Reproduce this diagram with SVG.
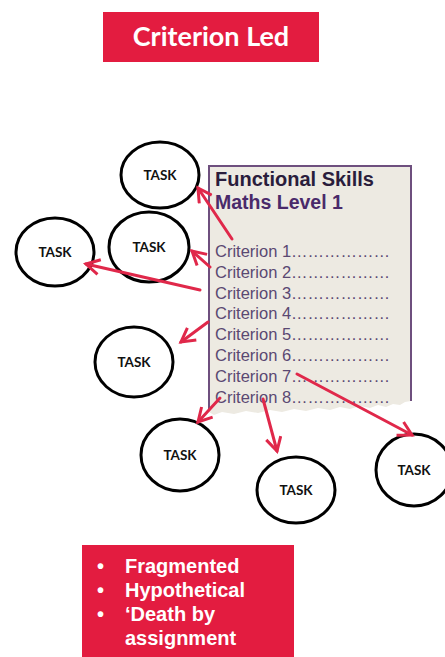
<svg xmlns="http://www.w3.org/2000/svg" width="445" height="657" viewBox="0 0 445 657">
<style>
.task ellipse{fill:#fff;stroke:#000;stroke-width:3}
.task text{font-family:Lato,"Open Sans",sans-serif;font-weight:bold;font-size:13.5px;fill:#111;text-anchor:middle}
.crit{font-family:"Liberation Sans",Arial,sans-serif;font-size:16.5px;fill:#5A4872}
.conn line{stroke:#E0284A;stroke-width:3;stroke-linecap:round}
.wt{font-family:"Liberation Sans",Arial,sans-serif;font-weight:bold;font-size:20px;fill:#fff}
</style>
<defs>
<marker id="ah" viewBox="0 0 12 12" refX="10" refY="6" markerWidth="6" markerHeight="6" orient="auto" markerUnits="strokeWidth">
<path d="M1,1 L10,6 L1,11" fill="none" stroke="#E0284A" stroke-width="2" stroke-linejoin="miter"/>
</marker>
</defs>
<rect width="445" height="657" fill="#fff"/>
<g id="title">
<rect x="103" y="12" width="216" height="50" fill="#E31C40"/>
<text x="211" y="46" text-anchor="middle" font-family="Lato,'Open Sans',sans-serif" font-weight="bold" font-size="27" fill="#fff">Criterion Led</text>
</g>
<g id="card">
<path d="M209,166 L411,166 L411,401 L405,402 L400,405 L393,404 L386,407 L378,405 L370,408 L360,406 L350,409 L340,407 L330,410 L318,408 L306,411 L294,409 L282,412 L270,410 L258,413 L246,411 L234,414 L222,412 L214,415 L209,412 Z" fill="#EDEAE2"/>
<path d="M209,410 L209,166 L411,166 L411,401" fill="none" stroke="#6E4F7E" stroke-width="2"/>
<text x="215" y="186" font-family="'Liberation Sans',Arial,sans-serif" font-weight="bold" font-size="20" fill="#2A1D3C">Functional Skills</text>
<text x="215" y="209" font-family="'Liberation Sans',Arial,sans-serif" font-weight="bold" font-size="19.5" fill="#4A2A6A">Maths Level 1</text>
<text class="crit" x="215" y="257">Criterion 1………………</text>
<text class="crit" x="215" y="278">Criterion 2………………</text>
<text class="crit" x="215" y="299">Criterion 3………………</text>
<text class="crit" x="215" y="319">Criterion 4………………</text>
<text class="crit" x="215" y="340">Criterion 5………………</text>
<text class="crit" x="215" y="361">Criterion 6………………</text>
<text class="crit" x="215" y="382">Criterion 7………………</text>
<text class="crit" x="215" y="403">Criterion 8………………</text>
</g>
<g id="task1" class="task"><ellipse cx="160" cy="175" rx="39" ry="33"/><text x="160" y="180">TASK</text></g>
<g id="task2" class="task"><ellipse cx="149" cy="247" rx="40" ry="35"/><text x="149" y="252">TASK</text></g>
<g id="task3" class="task"><ellipse cx="55" cy="252" rx="39" ry="34"/><text x="55" y="257">TASK</text></g>
<g id="task4" class="task"><ellipse cx="134" cy="362" rx="39" ry="35"/><text x="134" y="367">TASK</text></g>
<g id="task5" class="task"><ellipse cx="180" cy="455" rx="39" ry="36"/><text x="180" y="460">TASK</text></g>
<g id="task6" class="task"><ellipse cx="296" cy="490" rx="39" ry="33"/><text x="296" y="495">TASK</text></g>
<g id="task7" class="task"><ellipse cx="414" cy="470" rx="38" ry="36"/><text x="414" y="475">TASK</text></g>
<g id="connectors" class="conn">
<line x1="232" y1="239" x2="198" y2="188" marker-end="url(#ah)"/>
<line x1="210" y1="267" x2="192" y2="251" marker-end="url(#ah)"/>
<line x1="200" y1="290" x2="86" y2="264" marker-end="url(#ah)"/>
<line x1="208" y1="322" x2="181" y2="342" marker-end="url(#ah)"/>
<line x1="220" y1="398" x2="198" y2="422" marker-end="url(#ah)"/>
<line x1="263" y1="399" x2="277" y2="451" marker-end="url(#ah)"/>
<line x1="297" y1="374" x2="412" y2="435" marker-end="url(#ah)"/>
</g>
<g id="notes">
<rect x="82" y="545" width="212" height="112" fill="#E31C40"/>
<text class="wt" x="97" y="573">•</text>
<text class="wt" x="125" y="573">Fragmented</text>
<text class="wt" x="97" y="597">•</text>
<text class="wt" x="125" y="597">Hypothetical</text>
<text class="wt" x="97" y="621">•</text>
<text class="wt" x="125" y="621">‘Death by</text>
<text class="wt" x="125" y="645">assignment</text>
</g>
</svg>
